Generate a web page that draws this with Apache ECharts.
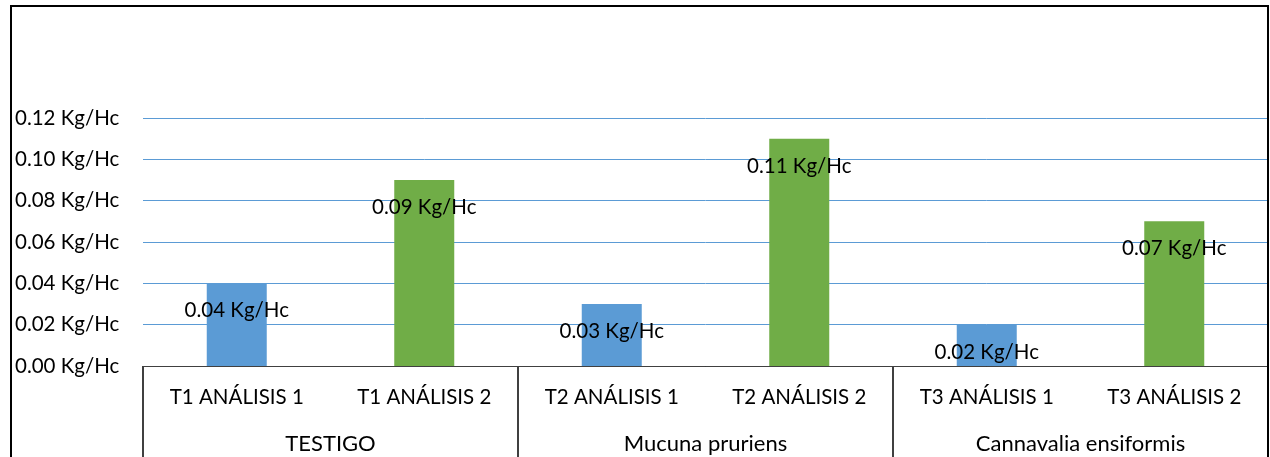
<!DOCTYPE html>
<html>
<head>
<meta charset="utf-8">
<script src="https://cdn.jsdelivr.net/npm/echarts@6/dist/echarts.min.js"></script>
<style>
html,body{margin:0;padding:0;background:#fff;}
#c{width:1270px;height:457px;}
</style>
</head>
<body>
<div id="c"></div>
<script>
const categories = ['T1 ANÁLISIS 1','T1 ANÁLISIS 2','T2 ANÁLISIS 1','T2 ANÁLISIS 2','T3 ANÁLISIS 1','T3 ANÁLISIS 2'];
const groups = ['TESTIGO','Mucuna pruriens','Cannavalia ensiformis'];
const values = [0.04, 0.09, 0.03, 0.11, 0.02, 0.07];
const barColors = ['#5B9BD5', '#70AD47'];
const unit = ' Kg/Hc';

const FONT = 'Lato';
const FS = 20.5;
const chart = echarts.init(document.getElementById('c'), null, {renderer:'canvas'});
chart.setOption({
  animation:false,
  backgroundColor:'#fff',
  graphic:[{type:'rect',shape:{x:11,y:6,width:1257,height:500},style:{fill:'none',stroke:'#000',lineWidth:2},z:100}],
  grid:{left:143,right:2,top:118,bottom:91},
  yAxis:{type:'value',min:0,max:0.12,interval:0.02,
    axisLine:{show:false},axisTick:{show:false},
    splitLine:{lineStyle:{color:'#5B9BD5',width:1}},
    axisLabel:{align:'left',margin:128,color:'#000',fontFamily:FONT,fontSize:FS,
      formatter:v=>v.toFixed(2)+unit}},
  xAxis:[
    {type:'category',data:categories,position:'bottom',
      axisLine:{lineStyle:{color:'#000',width:1}},axisTick:{show:false},
      axisLabel:{color:'#000',fontFamily:FONT,fontSize:FS,margin:21,interval:0}},
    {type:'category',data:groups,position:'bottom',
      axisLine:{lineStyle:{color:'#404040',width:1}},
      axisTick:{show:true,length:100,alignWithLabel:false,lineStyle:{color:'#404040',width:2}},
      axisLabel:{color:'#000',fontFamily:FONT,fontSize:22,margin:67,interval:0}}
  ],
  series:[{type:'bar',xAxisIndex:0,data:values,barWidth:'32%',
    itemStyle:{color:p=>barColors[p.dataIndex%2]},
    label:{show:true,position:'insideTop',distance:17,color:'#000',fontFamily:FONT,fontSize:FS,
      formatter:p=>p.value.toFixed(2)+unit}}]
});
</script>
</body>
</html>
